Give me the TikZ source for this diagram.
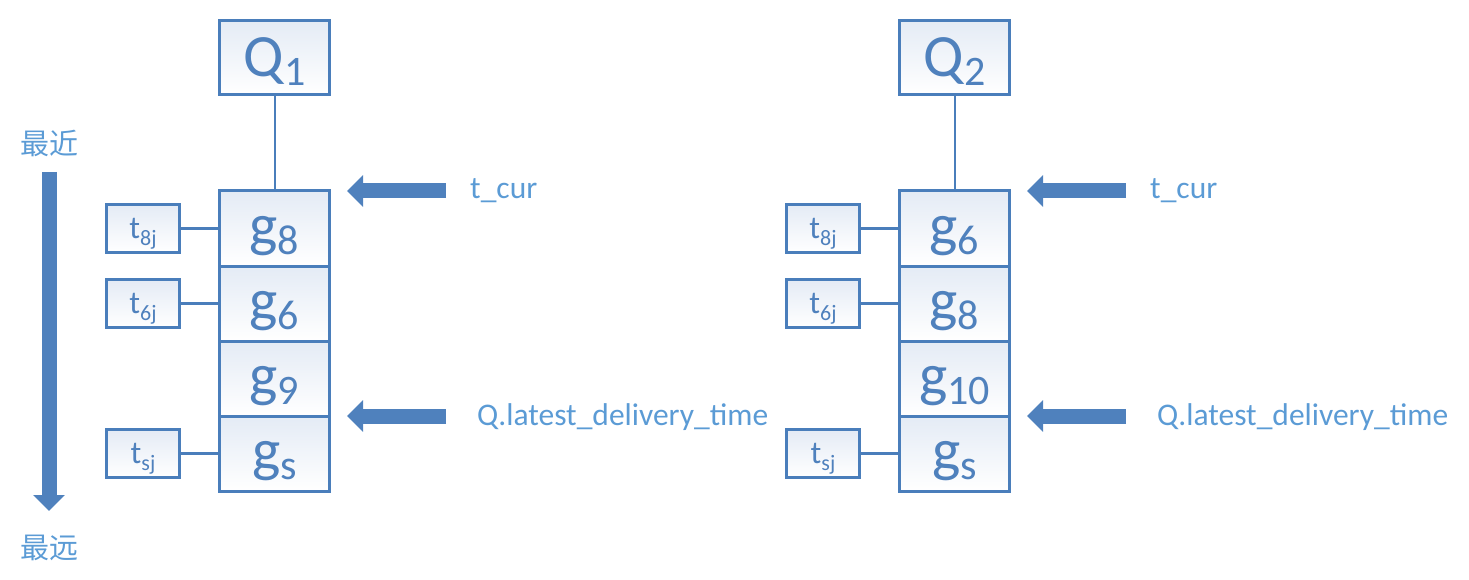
\documentclass[tikz,border=0pt]{standalone}
\usepackage{fontspec}
\setmainfont{Carlito}
\newfontfamily\cjk{Noto Sans CJK SC}
\usetikzlibrary{positioning,arrows.meta}

\definecolor{boxblue}{RGB}{74,126,187}
\definecolor{txtblue}{RGB}{79,129,189}
\definecolor{lblblue}{RGB}{91,155,213}
\definecolor{cellshade}{RGB}{228,235,245}

\newcommand{\gname}[2]{#1\raisebox{-9pt}{\fontsize{42}{42}\selectfont #2}}
\newcommand{\tname}[1]{t\raisebox{-7pt}{\fontsize{22}{22}\selectfont #1}}

\tikzset{
  cell/.style={draw=boxblue, line width=3pt, top color=cellshade, bottom color=white,
    minimum width=110pt, minimum height=75pt, inner sep=0pt, outer sep=0pt,
    text height=40pt, text depth=7pt,
    text=txtblue, font=\fontsize{60}{60}\selectfont},
  qbox/.style={cell, minimum height=74pt, text height=46pt},
  tbox/.style={cell, minimum width=73pt, minimum height=48pt,
    text height=25pt, text depth=5pt, font=\fontsize{32}{32}\selectfont},
  link/.style={draw=boxblue, line width=2.5pt},
  bigarrow/.style={draw=txtblue, line width=15pt, -{Triangle[width=31pt,length=16pt]}},
  lbl/.style={text=lblblue, inner sep=0pt, font=\fontsize{31.5}{31.5}\selectfont},
}

\begin{document}
\begin{tikzpicture}[x=1pt,y=-1pt]
\useasboundingbox (0,0) rectangle (1469,580);

% time direction
\node[lbl, font=\cjk\fontsize{29}{29}\selectfont] (near) at (49,143) {最近};
\node[lbl, font=\cjk\fontsize{29}{29}\selectfont] (far) at (49,548) {最远};
\draw[bigarrow, shorten <=29pt, shorten >=37pt] (near.center) -- (far.center);

% first queue
\node[qbox] (Q1) at (274.5,57.5) {\gname{Q}{1}};
\node[cell] (g8) at (274.5,228.5) {\gname{g}{8}};
\node[cell, below=0pt of g8] (g6) {\gname{g}{6}};
\node[cell, below=0pt of g6] (g9) {\gname{g}{9}};
\node[cell, below=0pt of g9] (gs) {\gname{g}{s}};
\draw[link, line width=2pt] (Q1) -- (g8);

% times
\node[tbox, left=40pt of g8] (t8) {\tname{8j}};
\node[tbox, left=40pt of g6] (t6) {\tname{6j}};
\node[tbox, left=40pt of gs] (ts) {\tname{sj}};
\draw[link] (t8) -- (g8);
\draw[link] (t6) -- (g6);
\draw[link] (ts) -- (gs);

% pointers
\node[lbl, anchor=base west] (tcur1) at (470,199) {t\_cur};
\node[lbl, anchor=base west] (qlate1) at (477,425) {Q.latest\_delivery\_time};
\coordinate (tip1) at ([xshift=17.5pt]g8.north east);
\coordinate (tip2) at ([xshift=17.5pt]g9.south east);
\draw[bigarrow] ([xshift=-24pt]tcur1.west |- tip1) -- (tip1);
\draw[bigarrow] ([xshift=-31pt]qlate1.west |- tip2) -- (tip2);

% second queue
\node[qbox] (Q2) at (954.5,57.5) {\gname{Q}{2}};
\node[cell] (h6) at (954.5,228.5) {\gname{g}{6}};
\node[cell, below=0pt of h6] (h8) {\gname{g}{8}};
\node[cell, below=0pt of h8] (h10) {\gname{g}{10}};
\node[cell, below=0pt of h10] (hs) {\gname{g}{s}};
\draw[link, line width=2pt] (Q2) -- (h6);

% times
\node[tbox, left=40pt of h6] (u8) {\tname{8j}};
\node[tbox, left=40pt of h8] (u6) {\tname{6j}};
\node[tbox, left=40pt of hs] (us) {\tname{sj}};
\draw[link] (u8) -- (h6);
\draw[link] (u6) -- (h8);
\draw[link] (us) -- (hs);

% pointers
\node[lbl, anchor=base west] (tcur2) at (1150,199) {t\_cur};
\node[lbl, anchor=base west] (qlate2) at (1157,425) {Q.latest\_delivery\_time};
\coordinate (tip3) at ([xshift=17.5pt]h6.north east);
\coordinate (tip4) at ([xshift=17.5pt]h10.south east);
\draw[bigarrow] ([xshift=-24pt]tcur2.west |- tip3) -- (tip3);
\draw[bigarrow] ([xshift=-31pt]qlate2.west |- tip4) -- (tip4);

\end{tikzpicture}
\end{document}
